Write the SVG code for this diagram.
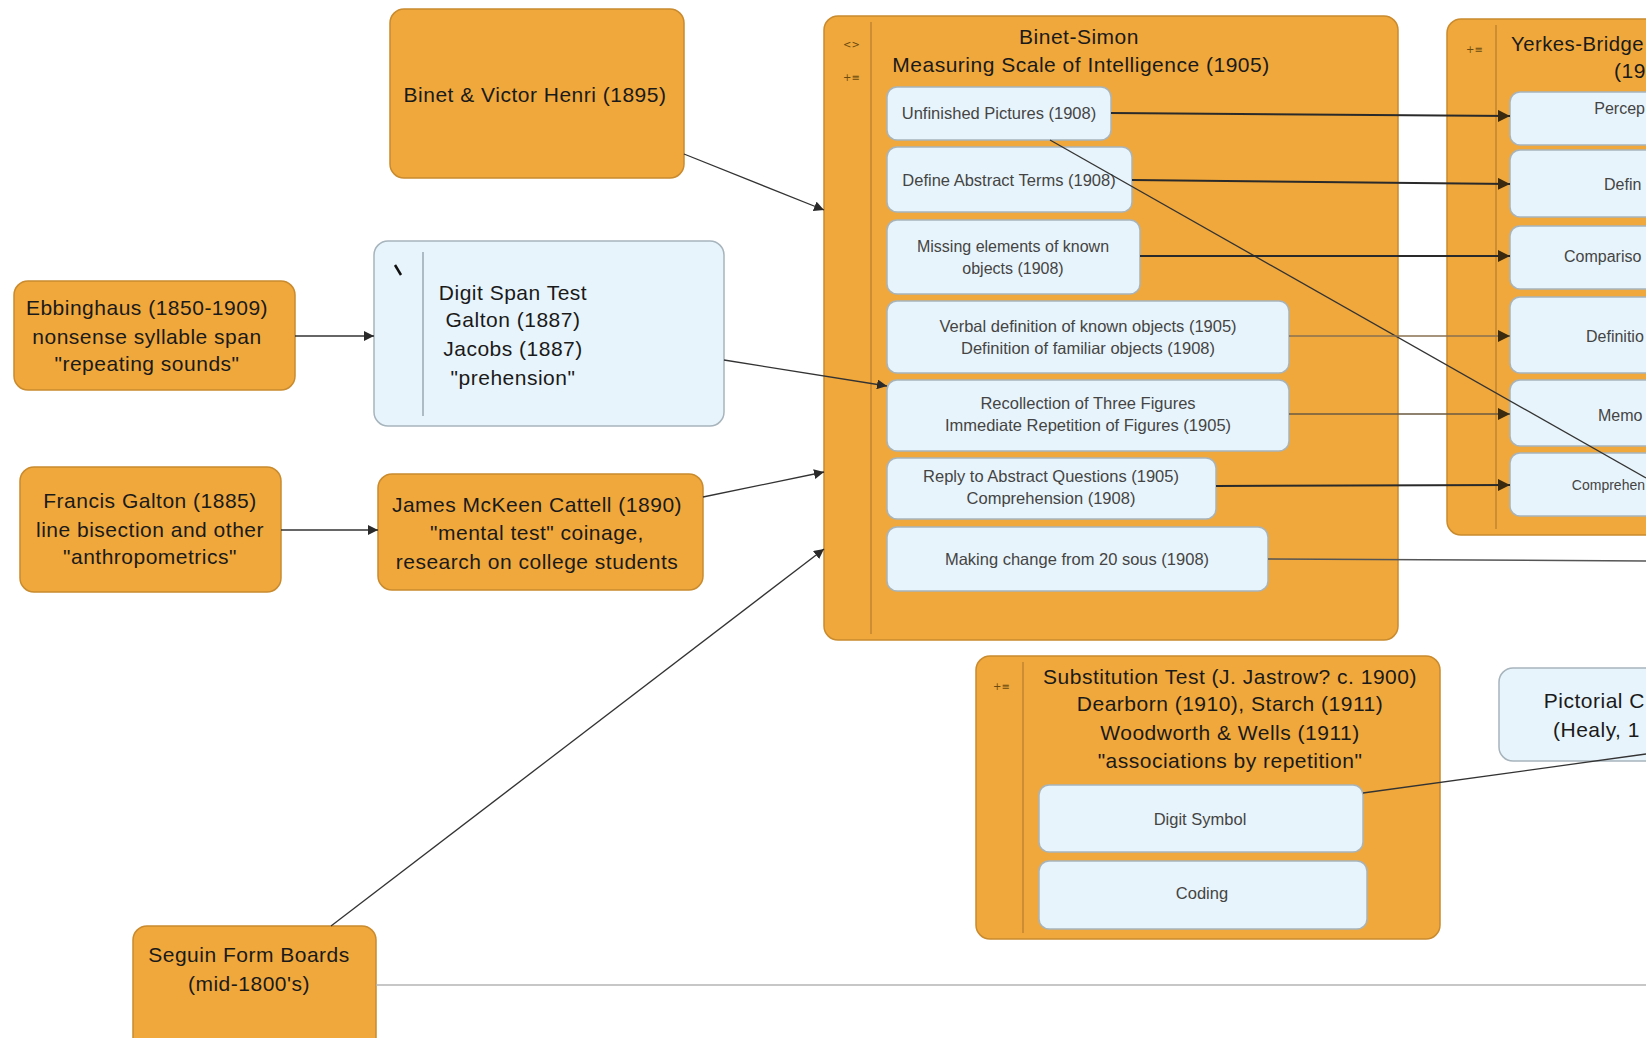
<svg xmlns="http://www.w3.org/2000/svg" width="1646" height="1038" viewBox="0 0 1646 1038">
<style>
.org{fill:#F0A83C;stroke:#C98B2E;stroke-width:1.5}
.blu{fill:#E8F4FB;stroke:#A7B4BC;stroke-width:1.5}
.stripe{stroke:#C08530;stroke-width:1.5;fill:none}
.bstripe{stroke:#9AA8B2;stroke-width:1.5;fill:none}
.t{font-family:"Liberation Sans",Arial,sans-serif;font-size:21px;fill:#1a1a1a;text-anchor:middle;letter-spacing:0.5px}
.s{font-family:"Liberation Sans",Arial,sans-serif;font-size:16.5px;fill:#444;text-anchor:middle}
.ys{font-family:"Liberation Sans",Arial,sans-serif;font-size:16px;fill:#444}
.ye{font-family:"Liberation Sans",Arial,sans-serif;font-size:16px;fill:#444;text-anchor:end}
.ic{font-family:"DejaVu Sans",sans-serif;font-size:10px;fill:#6a4a10}
.c{stroke:#333;stroke-width:1.3;fill:none}
.ch{stroke:#2a2a2a;stroke-width:2;fill:none}
</style>
<defs>
<marker id="ah" viewBox="0 0 10 10" refX="10" refY="5" markerWidth="10" markerHeight="10" markerUnits="userSpaceOnUse" orient="auto">
<path d="M0,0 L10,5 L0,10 z" fill="#2a2a2a"/>
</marker>
<marker id="ahb" viewBox="0 0 10 10" refX="10" refY="5" markerWidth="12" markerHeight="12" markerUnits="userSpaceOnUse" orient="auto">
<path d="M0,0 L10,5 L0,10 z" fill="#3a2a10"/>
</marker>
</defs>

<g id="binet-henri">
<rect class="org" x="390" y="9" width="294" height="169" rx="14"/>
<text class="t" x="535" y="102">Binet &amp; Victor Henri (1895)</text>
</g>

<g id="ebbinghaus">
<rect class="org" x="14" y="281" width="281" height="109" rx="14"/>
<text class="t" x="147" y="315">Ebbinghaus (1850-1909)</text>
<text class="t" x="147" y="344">nonsense syllable span</text>
<text class="t" x="147" y="371">"repeating sounds"</text>
</g>

<g id="digit-span">
<rect class="blu" x="374" y="241" width="350" height="185" rx="14"/>
<line class="bstripe" x1="423" y1="252" x2="423" y2="416"/>
<path d="M395,265 L401,275" stroke="#111" stroke-width="2.5"/>
<text class="t" x="513" y="300">Digit Span Test</text>
<text class="t" x="513" y="327">Galton (1887)</text>
<text class="t" x="513" y="356">Jacobs (1887)</text>
<text class="t" x="513" y="385">"prehension"</text>
</g>

<g id="galton">
<rect class="org" x="20" y="467" width="261" height="125" rx="14"/>
<text class="t" x="150" y="508">Francis Galton (1885)</text>
<text class="t" x="150" y="537">line bisection and other</text>
<text class="t" x="150" y="564">"anthropometrics"</text>
</g>

<g id="cattell">
<rect class="org" x="378" y="474" width="325" height="116" rx="14"/>
<text class="t" x="537" y="512">James McKeen Cattell (1890)</text>
<text class="t" x="537" y="540">"mental test" coinage,</text>
<text class="t" x="537" y="569">research on college students</text>
</g>

<g id="seguin">
<rect class="org" x="133" y="926" width="243" height="130" rx="14"/>
<text class="t" x="249" y="962">Seguin Form Boards</text>
<text class="t" x="249" y="991">(mid-1800's)</text>
</g>

<g id="binet-simon">
<rect class="org" x="824" y="16" width="574" height="624" rx="14"/>
<line class="stripe" x1="871" y1="22" x2="871" y2="634"/>
<text class="ic" x="843" y="48">&lt;&gt;</text>
<text class="ic" x="843" y="81">+≡</text>
<text class="t" x="1079" y="44">Binet-Simon</text>
<text class="t" x="1081" y="72">Measuring Scale of Intelligence (1905)</text>
<g id="bs-unfinished">
<rect class="blu" x="887" y="87" width="224" height="53" rx="10"/>
<text class="s" x="999" y="119">Unfinished Pictures (1908)</text>
</g>
<g id="bs-define">
<rect class="blu" x="887" y="147" width="245" height="65" rx="10"/>
<text class="s" x="1009" y="186">Define Abstract Terms (1908)</text>
</g>
<g id="bs-missing">
<rect class="blu" x="887" y="220" width="253" height="74" rx="10"/>
<text class="s" x="1013" y="252" style="font-size:16px">Missing elements of known</text>
<text class="s" x="1013" y="274" style="font-size:16px">objects (1908)</text>
</g>
<g id="bs-verbal">
<rect class="blu" x="887" y="301" width="402" height="72" rx="10"/>
<text class="s" x="1088" y="332">Verbal definition of known objects (1905)</text>
<text class="s" x="1088" y="354">Definition of familiar objects (1908)</text>
</g>
<g id="bs-recollection">
<rect class="blu" x="887" y="380" width="402" height="71" rx="10"/>
<text class="s" x="1088" y="409">Recollection of Three Figures</text>
<text class="s" x="1088" y="431">Immediate Repetition of Figures (1905)</text>
</g>
<g id="bs-reply">
<rect class="blu" x="887" y="458" width="329" height="61" rx="10"/>
<text class="s" x="1051" y="482">Reply to Abstract Questions (1905)</text>
<text class="s" x="1051" y="504">Comprehension (1908)</text>
</g>
<g id="bs-change">
<rect class="blu" x="887" y="527" width="381" height="64" rx="10"/>
<text class="s" x="1077" y="565">Making change from 20 sous (1908)</text>
</g>
</g>

<g id="yerkes">
<rect class="org" x="1447" y="19" width="240" height="516" rx="14"/>
<line class="stripe" x1="1496" y1="25" x2="1496" y2="529"/>
<text class="ic" x="1466" y="53">+≡</text>
<text class="t" x="1511" y="51" style="text-anchor:start" textLength="133" lengthAdjust="spacingAndGlyphs">Yerkes-Bridge</text>
<text class="t" x="1614" y="78" style="text-anchor:start">(19</text>
<g id="y-percep"><rect class="blu" x="1510" y="92" width="200" height="53" rx="10"/><text class="ye" x="1645" y="114">Percep</text></g>
<g id="y-defin"><rect class="blu" x="1510" y="150" width="200" height="67" rx="10"/><text class="ys" x="1604" y="190">Defin</text></g>
<g id="y-compar"><rect class="blu" x="1510" y="226" width="200" height="63" rx="10"/><text class="ys" x="1564" y="262">Compariso</text></g>
<g id="y-defin2"><rect class="blu" x="1510" y="297" width="200" height="76" rx="10"/><text class="ys" x="1586" y="342">Definitio</text></g>
<g id="y-memo"><rect class="blu" x="1510" y="380" width="200" height="66" rx="10"/><text class="ys" x="1598" y="421">Memo</text></g>
<g id="y-compre"><rect class="blu" x="1510" y="453" width="200" height="63" rx="10"/><text class="ye" x="1645" y="490" style="font-size:14px">Comprehen</text></g>
</g>

<g id="substitution">
<rect class="org" x="976" y="656" width="464" height="283" rx="14"/>
<line class="stripe" x1="1023" y1="662" x2="1023" y2="933"/>
<text class="ic" x="993" y="690">+≡</text>
<text class="t" x="1230" y="684">Substitution Test (J. Jastrow? c. 1900)</text>
<text class="t" x="1230" y="711">Dearborn (1910), Starch (1911)</text>
<text class="t" x="1230" y="740">Woodworth &amp; Wells (1911)</text>
<text class="t" x="1230" y="768">"associations by repetition"</text>
<g id="sub-digit-symbol">
<rect class="blu" x="1039" y="785" width="324" height="67" rx="10"/>
<text class="s" x="1200" y="825">Digit Symbol</text>
</g>
<g id="sub-coding">
<rect class="blu" x="1039" y="861" width="328" height="68" rx="10"/>
<text class="s" x="1202" y="899">Coding</text>
</g>
</g>

<g id="pictorial">
<rect class="blu" x="1499" y="668" width="220" height="93" rx="14"/>
<text class="t" x="1645" y="708" style="text-anchor:end">Pictorial C</text>
<text class="t" x="1553" y="737" style="text-anchor:start">(Healy, 1</text>
</g>

<g id="connectors">
<line class="c" x1="684" y1="154" x2="824" y2="210" marker-end="url(#ah)"/>
<line class="c" x1="295" y1="336" x2="374" y2="336" marker-end="url(#ah)"/>
<line class="c" x1="724" y1="360" x2="887" y2="386" marker-end="url(#ah)"/>
<line class="c" x1="281" y1="530" x2="378" y2="530" marker-end="url(#ah)"/>
<line class="c" x1="703" y1="497" x2="824" y2="472" marker-end="url(#ah)"/>
<line class="c" x1="331" y1="926" x2="824" y2="549" marker-end="url(#ah)"/>
<line x1="376" y1="985" x2="1646" y2="985" stroke="#B5B5B5" stroke-width="1.5"/>
<line class="ch" x1="1111" y1="113" x2="1510" y2="116" marker-end="url(#ahb)"/>
<line class="c" x1="1050" y1="140" x2="1646" y2="478"/>
<line class="ch" x1="1132" y1="180" x2="1510" y2="184" marker-end="url(#ahb)"/>
<line class="ch" x1="1140" y1="256" x2="1510" y2="256" marker-end="url(#ahb)"/>
<line x1="1289" y1="336" x2="1510" y2="336" stroke="#8a7050" stroke-width="1.5" marker-end="url(#ahb)"/>
<line x1="1289" y1="414" x2="1510" y2="414" stroke="#6a5a40" stroke-width="1.5" marker-end="url(#ahb)"/>
<line class="ch" x1="1216" y1="486" x2="1510" y2="485" marker-end="url(#ahb)"/>
<line x1="1268" y1="559" x2="1646" y2="561" stroke="#555" stroke-width="1.5"/>
<line class="c" x1="1363" y1="793" x2="1646" y2="754"/>
</g>
</svg>
